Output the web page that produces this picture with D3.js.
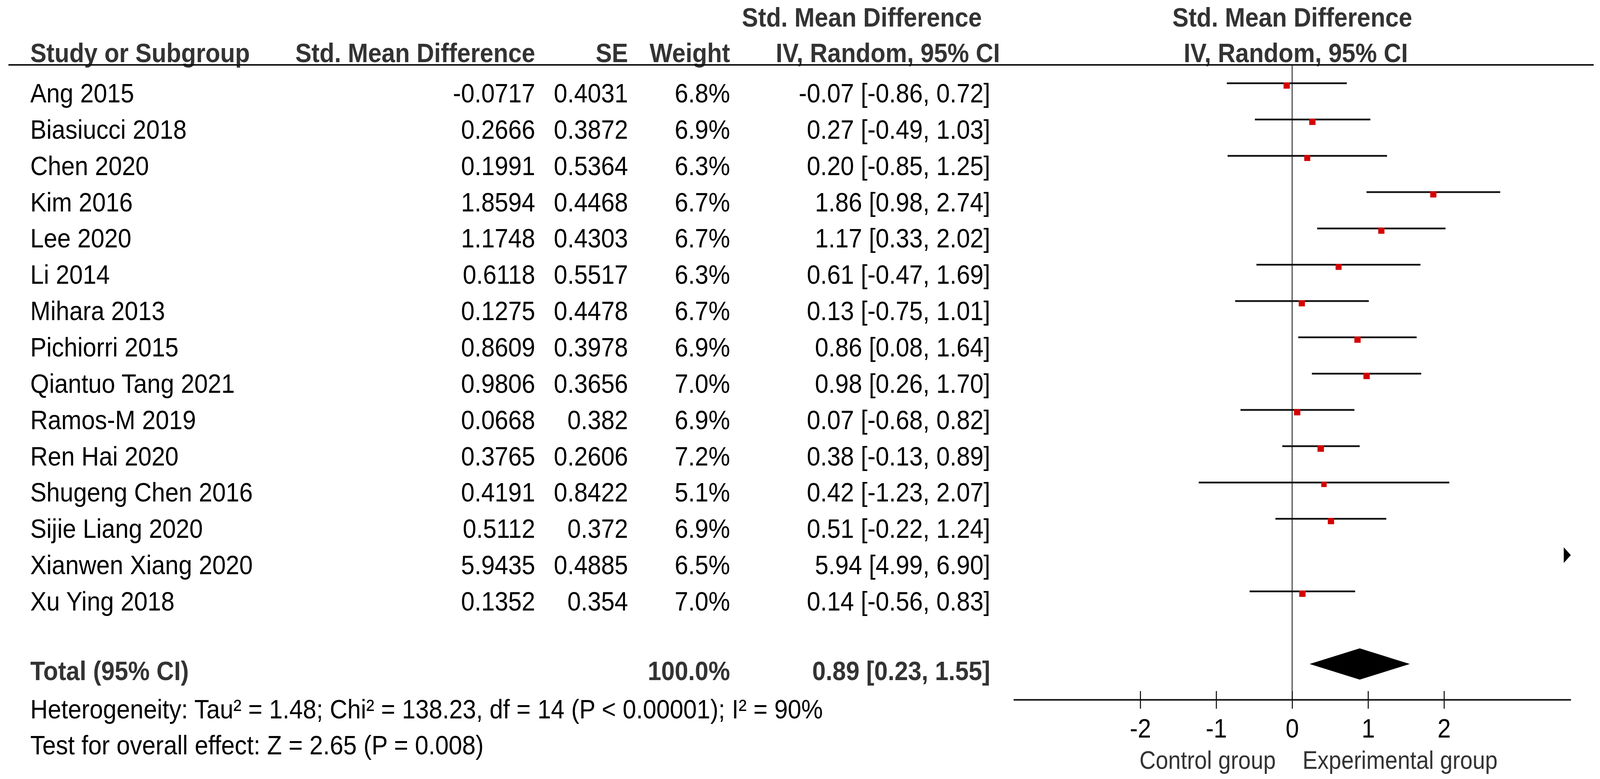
<!doctype html>
<html>

<head>
    <meta charset="utf-8">
    <title>forest plot</title>
    <script src="https://d3js.org/d3.v7.min.js"></script>
    <style>
      html, body { margin: 0; padding: 0; background: #fff; overflow: hidden; }
      svg { display: block; }
      text { font-family: "Liberation Sans", Arial, sans-serif; }
    </style>
</head>

<body>

    <script>

    // study rows
    var studies = ['Ang 2015', 'Biasiucci 2018', 'Chen 2020', 'Kim 2016', 'Lee 2020', 'Li 2014',
                   'Mihara 2013', 'Pichiorri 2015', 'Qiantuo Tang 2021', 'Ramos-M 2019', 'Ren Hai 2020',
                   'Shugeng Chen 2016', 'Sijie Liang 2020', 'Xianwen Xiang 2020', 'Xu Ying 2018'];
    var smd = [-0.0717, 0.2666, 0.1991, 1.8594, 1.1748, 0.6118, 0.1275, 0.8609, 0.9806, 0.0668,
               0.3765, 0.4191, 0.5112, 5.9435, 0.1352];
    var se = [0.4031, 0.3872, 0.5364, 0.4468, 0.4303, 0.5517, 0.4478, 0.3978, 0.3656, 0.382,
              0.2606, 0.8422, 0.372, 0.4885, 0.354];
    var weights = [6.8, 6.9, 6.3, 6.7, 6.7, 6.3, 6.7, 6.9, 7.0, 6.9, 7.2, 5.1, 6.9, 6.5, 7.0];
    var est = [-0.07, 0.27, 0.20, 1.86, 1.17, 0.61, 0.13, 0.86, 0.98, 0.07, 0.38, 0.42, 0.51, 5.94, 0.14];
    var ciLow = [-0.86, -0.49, -0.85, 0.98, 0.33, -0.47, -0.75, 0.08, 0.26, -0.68, -0.13, -1.23, -0.22, 4.99, -0.56];
    var ciHigh = [0.72, 1.03, 1.25, 2.74, 2.02, 1.69, 1.01, 1.64, 1.70, 0.82, 0.89, 2.07, 1.24, 6.90, 0.83];

    // pooled result
    var totalEst = 0.89;
    var totalLow = 0.23;
    var totalHigh = 1.55;
    var totalWeight = 100.0;

    var tickValues = [-2, -1, 0, 1, 2];
    var heterogeneityText = 'Heterogeneity: Tau\u00b2 = 1.48; Chi\u00b2 = 138.23, df = 14 (P < 0.00001); I\u00b2 = 90%';
    var overallText = 'Test for overall effect: Z = 2.65 (P = 0.008)';

    //set canvas parameters
    var canvasWidth = 4550;
    var canvasHeight = 1993;
    var fontSize = 69;
    var headColor = '#333';

    // scale the drawing to whatever the viewport is
    var svg = d3.select('body')
                .append('svg')
                .attr('viewBox', '0 0 ' + canvasWidth + ' ' + canvasHeight)
                .attr('preserveAspectRatio', 'none')
                .style('width', '100vw')
                .style('height', '100vh');

    svg.append('rect').attr('width', canvasWidth).attr('height', canvasHeight).attr('fill', '#fff');

    // row positions (line level and text baseline)
    var rowY = d3.scaleLinear().domain([0, 1]).range([213, 305.86]);
    var baseOffset = 49;

    // effect scale for the plot column
    var xScale = d3.scaleLinear()
                   .domain([-3.67, 3.67])
                   .range([2882, 4467]);
    var axisY = 1790;

    // column right edges
    var colSmd = 1522, colSe = 1786, colWeight = 2076, colCi = 2816;

    function fmt2(v) { return v.toFixed(2); }

    // header
    var head = svg.append('g')
                  .attr('font-weight', 'bold')
                  .attr('fill', headColor)
                  .attr('font-size', fontSize);

    head.append('text').attr('x', 86).attr('y', 159).text('Study or Subgroup');
    head.append('text').attr('x', colSmd).attr('y', 159).attr('text-anchor', 'end').text('Std. Mean Difference');
    head.append('text').attr('x', colSe).attr('y', 159).attr('text-anchor', 'end').text('SE');
    head.append('text').attr('x', colWeight).attr('y', 159).attr('text-anchor', 'end').text('Weight');
    head.append('text').attr('x', 2451).attr('y', 68).attr('text-anchor', 'middle').text('Std. Mean Difference');
    head.append('text').attr('x', 2525).attr('y', 159).attr('text-anchor', 'middle').text('IV, Random, 95% CI');
    head.append('text').attr('x', 3675).attr('y', 68).attr('text-anchor', 'middle').text('Std. Mean Difference');
    head.append('text').attr('x', 3685).attr('y', 159).attr('text-anchor', 'middle').text('IV, Random, 95% CI');

    svg.append('line')
       .attr('x1', 24).attr('x2', 4532)
       .attr('y1', 166).attr('y2', 166)
       .attr('stroke', '#111')
       .attr('stroke-width', 4);

    // study table rows
    var rows = svg.selectAll('g.row')
                  .data(studies)
                  .enter()
                  .append('g')
                  .attr('class', 'row')
                  .attr('font-size', fontSize)
                  .attr('fill', '#000')
                  .attr('transform', function (d, i) { return 'translate(0,' + (rowY(i) + baseOffset) + ')'; });

    rows.append('text').attr('x', 86).text(function (d) { return d; });
    rows.append('text').attr('x', colSmd).attr('text-anchor', 'end')
        .text(function (d, i) { return String(smd[i]); });
    rows.append('text').attr('x', colSe).attr('text-anchor', 'end')
        .text(function (d, i) { return String(se[i]); });
    rows.append('text').attr('x', colWeight).attr('text-anchor', 'end')
        .text(function (d, i) { return weights[i].toFixed(1) + '%'; });
    rows.append('text').attr('x', colCi).attr('text-anchor', 'end')
        .text(function (d, i) { return fmt2(est[i]) + ' [' + fmt2(ciLow[i]) + ', ' + fmt2(ciHigh[i]) + ']'; });

    // total row
    var totalRow = svg.append('g')
                      .attr('font-size', fontSize)
                      .attr('font-weight', 'bold')
                      .attr('fill', headColor)
                      .attr('transform', 'translate(0,' + (rowY(16) + baseOffset - 8) + ')');
    totalRow.append('text').attr('x', 86).text('Total (95% CI)');
    totalRow.append('text').attr('x', colWeight).attr('text-anchor', 'end').text(totalWeight.toFixed(1) + '%');
    totalRow.append('text').attr('x', colCi).attr('text-anchor', 'end')
            .text(fmt2(totalEst) + ' [' + fmt2(totalLow) + ', ' + fmt2(totalHigh) + ']');

    svg.append('text').attr('x', 86).attr('y', 1838).attr('font-size', fontSize).text(heterogeneityText);
    svg.append('text').attr('x', 86).attr('y', 1930).attr('font-size', fontSize).text(overallText);

    // zero line
    svg.append('line')
       .attr('x1', xScale(0)).attr('x2', xScale(0))
       .attr('y1', 166).attr('y2', axisY)
       .attr('stroke', '#222')
       .attr('stroke-width', 2.5);

    // confidence intervals, clipped to the axis range
    var xMin = xScale.domain()[0], xMax = xScale.domain()[1];
    var inside = studies.map(function (d, i) { return i; }).filter(function (i) { return ciLow[i] < xMax; });

    svg.selectAll('line.ci')
       .data(inside)
       .enter()
       .append('line')
       .attr('class', 'ci')
       .attr('x1', function (i) { return xScale(Math.max(ciLow[i], xMin)); })
       .attr('x2', function (i) { return xScale(Math.min(ciHigh[i], xMax)); })
       .attr('y1', function (i) { return rowY(i); })
       .attr('y2', function (i) { return rowY(i); })
       .attr('stroke', '#111')
       .attr('stroke-width', 4.5);

    // study boxes, sized by weight
    svg.selectAll('rect.box')
       .data(inside)
       .enter()
       .append('rect')
       .attr('class', 'box')
       .attr('x', function (i) { return xScale(smd[i]) - 9 * Math.sqrt(weights[i] / 7); })
       .attr('y', function (i) { return rowY(i) - 2; })
       .attr('width', function (i) { return 18 * Math.sqrt(weights[i] / 7); })
       .attr('height', function (i) { return 16 * Math.sqrt(weights[i] / 7); })
       .attr('fill', '#d40000');

    // arrows for intervals off the right of the axis
    var outside = studies.map(function (d, i) { return i; }).filter(function (i) { return ciLow[i] >= xMax; });
    svg.selectAll('path.arrow')
       .data(outside)
       .enter()
       .append('path')
       .attr('class', 'arrow')
       .attr('d', function (i) {
         var x = xScale(xMax), y = rowY(i);
         return 'M' + (x - 20) + ',' + (y - 20) + 'L' + x + ',' + y + 'L' + (x - 20) + ',' + (y + 20) + 'Z';
       })
       .attr('fill', '#000');

    // pooled diamond
    var dy = rowY(16);
    svg.append('path')
       .attr('d', 'M' + xScale(totalLow) + ',' + dy +
                  'L' + xScale(totalEst) + ',' + (dy - 40) +
                  'L' + xScale(totalHigh) + ',' + dy +
                  'L' + xScale(totalEst) + ',' + (dy + 40) + 'Z')
       .attr('fill', '#000');

    // bottom axis
    var axis = d3.axisBottom(xScale)
                 .tickValues(tickValues)
                 .tickSizeOuter(0)
                 .tickFormat(function (d) { return String(d); });

    var axisG = svg.append('g')
                   .attr('transform', 'translate(0,' + axisY + ')')
                   .call(axis);
    axisG.select('.domain').attr('stroke', '#111').attr('stroke-width', 4);
    axisG.selectAll('.tick line').attr('y1', -22).attr('y2', 23).attr('stroke', '#111').attr('stroke-width', 3);
    axisG.selectAll('.tick text')
         .attr('y', 97)
         .attr('dy', 0)
         .attr('fill', '#000')
         .style('font-size', '68px')
         .style('font-family', '"Liberation Sans", Arial, sans-serif');

    svg.append('text').attr('x', 3628).attr('y', 1967).attr('text-anchor', 'end')
       .attr('font-size', 64).attr('fill', '#333').text('Control group');
    svg.append('text').attr('x', 3704).attr('y', 1967)
       .attr('font-size', 64).attr('fill', '#333').text('Experimental group');

    </script>

</body>

</html>
